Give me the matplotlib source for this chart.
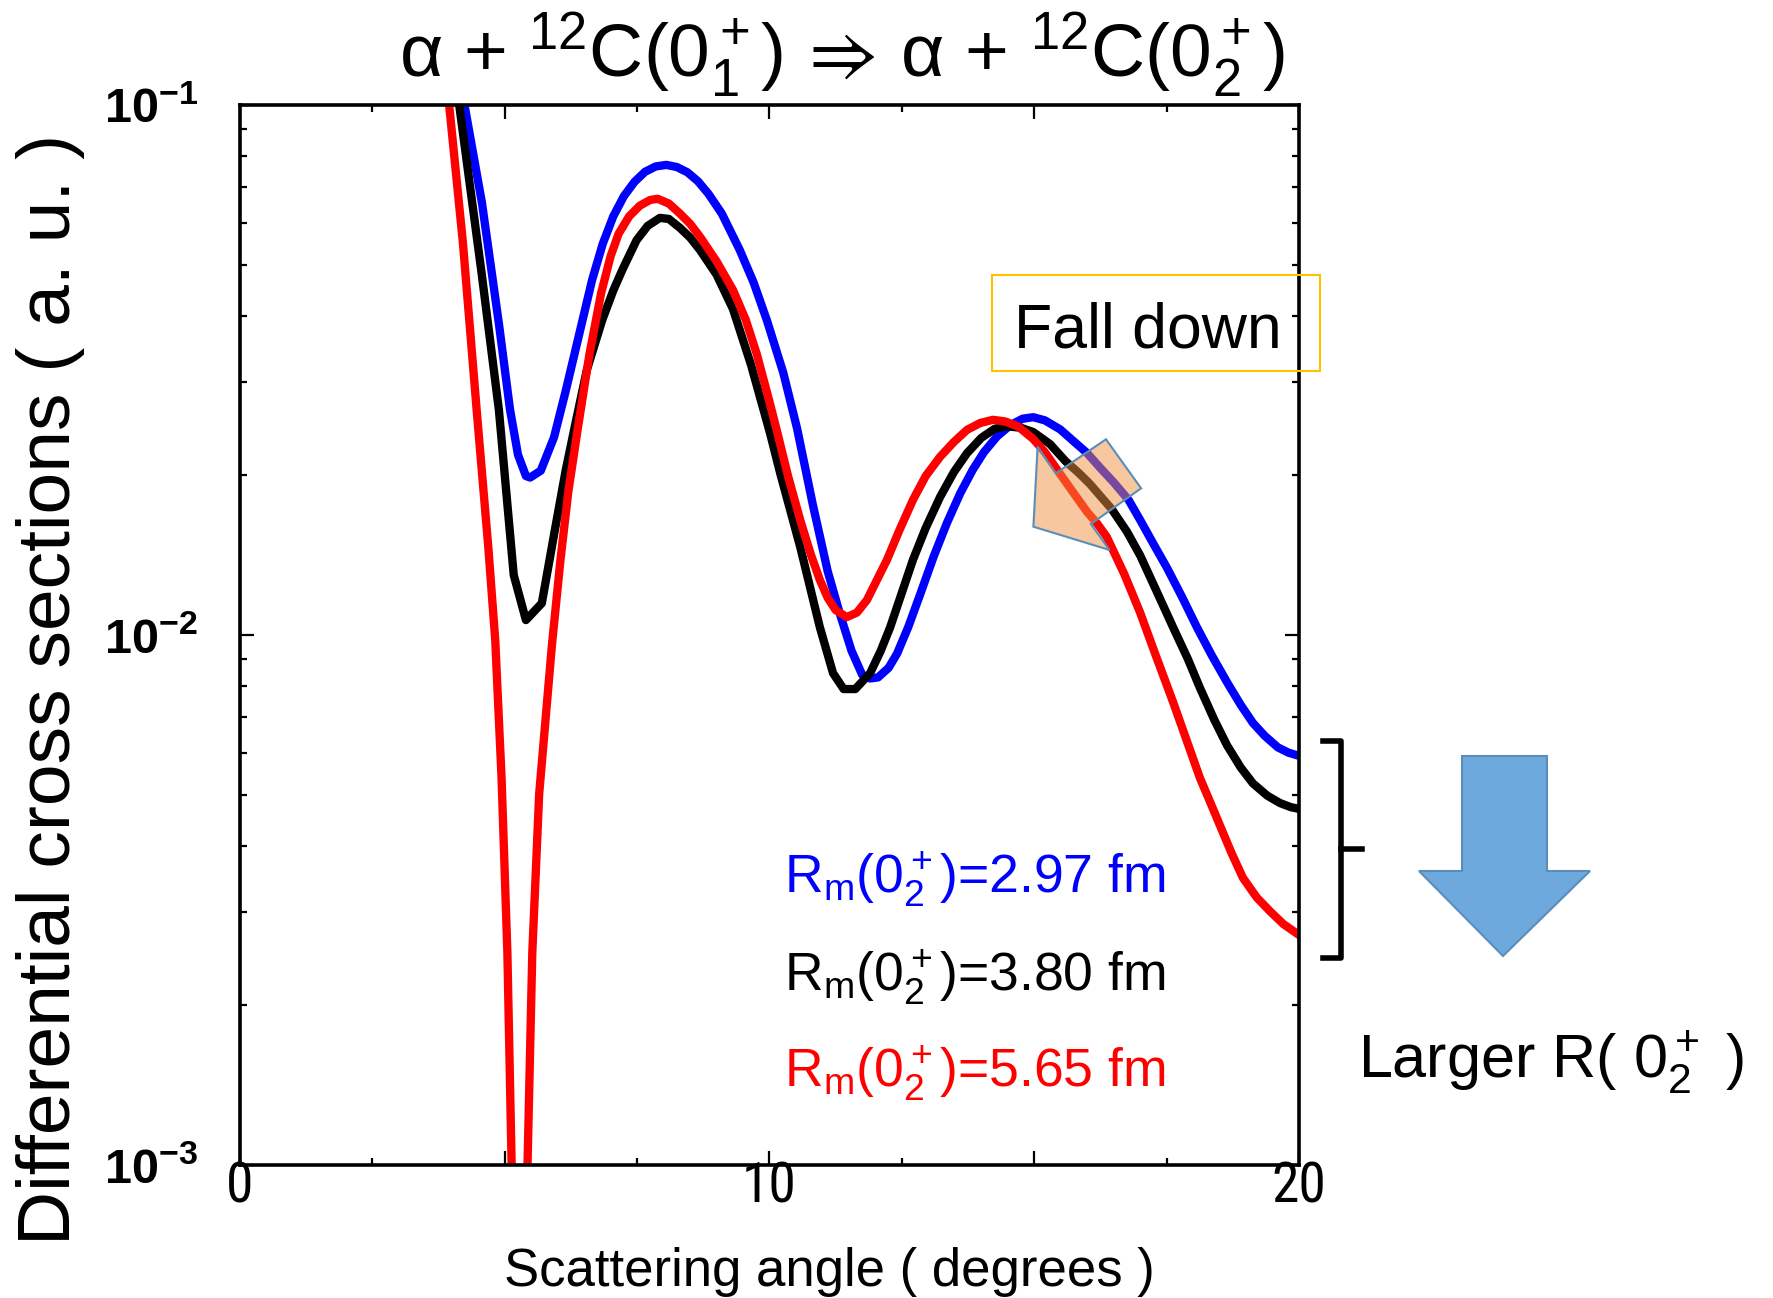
import matplotlib
matplotlib.use('Agg')
import numpy as np
import matplotlib.pyplot as plt
from matplotlib import font_manager
from matplotlib.patches import Polygon, Rectangle
from matplotlib.lines import Line2D
from matplotlib.transforms import Affine2D
from matplotlib.ticker import MultipleLocator, LogLocator, NullFormatter, FuncFormatter

plt.rcParams['font.family'] = ['Liberation Sans', 'DejaVu Sans']
plt.rcParams['mathtext.fontset'] = 'custom'
plt.rcParams['mathtext.rm'] = 'Liberation Sans'
plt.rcParams['mathtext.it'] = 'Liberation Sans:italic'
plt.rcParams['mathtext.bf'] = 'Liberation Sans:bold'
plt.rcParams['mathtext.fallback'] = 'stixsans'

# alpha + 12C(0_1+) -> alpha + 12C(0_2+) cross sections for three radii of the 0_2+ state
# Rm = 2.97 fm
angle_297 = [4.24, 4.57, 4.89, 5.10, 5.25, 5.40, 5.48, 5.68, 5.93, 6.15,
             6.40, 6.65, 6.85, 7.05, 7.25, 7.45, 7.65, 7.85, 8.05, 8.25,
             8.45, 8.65, 8.85, 9.10, 9.44, 9.70, 9.95, 10.26, 10.52, 10.82,
             11.10, 11.33, 11.55, 11.75, 11.90, 12.05, 12.25, 12.41, 12.62, 12.84,
             13.10, 13.35, 13.60, 13.84, 14.05, 14.30, 14.55, 14.78, 14.98, 15.20,
             15.49, 15.75, 15.99, 16.25, 16.50, 16.78, 17.00, 17.25, 17.51, 17.80,
             18.07, 18.35, 18.64, 18.90, 19.13, 19.35, 19.60, 19.80, 20.00]
dcs_297 = [0.1000, 0.06531, 0.03864, 0.02661, 0.02188, 0.01995, 0.01982, 0.02042, 0.02360, 0.02884,
           0.03673, 0.04677, 0.05470, 0.06166, 0.06730, 0.07161, 0.07482, 0.07656, 0.07709, 0.07638,
           0.07464, 0.07178, 0.06792, 0.06237, 0.05321, 0.04624, 0.03926, 0.03126, 0.02455, 0.01758,
           0.01318, 0.01096, 0.009333, 0.008414, 0.008279, 0.008318, 0.008670, 0.009226, 0.01035, 0.01189,
           0.01406, 0.01626, 0.01849, 0.02051, 0.02213, 0.02371, 0.02489, 0.02559, 0.02576, 0.02541,
           0.02443, 0.02317, 0.02208, 0.02065, 0.01941, 0.01799, 0.01648, 0.01486, 0.01337, 0.01175,
           0.01035, 0.009162, 0.008147, 0.007379, 0.006823, 0.006457, 0.006138, 0.005998, 0.005916]

# Rm = 3.80 fm
angle_380 = [4.14, 4.56, 4.89, 5.17, 5.40, 5.70, 5.95, 6.15, 6.32, 6.55,
             6.84, 7.05, 7.23, 7.49, 7.70, 7.93, 8.10, 8.31, 8.50, 8.69,
             9.00, 9.31, 9.65, 10.01, 10.20, 10.58, 10.95, 11.20, 11.40, 11.62,
             11.90, 12.10, 12.28, 12.50, 12.71, 12.95, 13.22, 13.48, 13.73, 14.00,
             14.25, 14.48, 14.75, 14.98, 15.30, 15.59, 15.85, 16.05, 16.25, 16.46,
             16.75, 17.00, 17.30, 17.62, 17.90, 18.13, 18.40, 18.64, 18.90, 19.13,
             19.40, 19.64, 19.85, 20.00]
dcs_380 = [0.1000, 0.04842, 0.02655, 0.01297, 0.01067, 0.01148, 0.01585, 0.02042, 0.02466, 0.03162,
           0.03926, 0.04467, 0.04909, 0.05559, 0.05916, 0.06124, 0.06095, 0.05861, 0.05623, 0.05321,
           0.04786, 0.04121, 0.03236, 0.02404, 0.02023, 0.01466, 0.01035, 0.008472, 0.007907, 0.007907,
           0.008472, 0.009333, 0.01035, 0.01202, 0.01387, 0.01592, 0.01820, 0.02028, 0.02203, 0.02355,
           0.02449, 0.02477, 0.02460, 0.02415, 0.02291, 0.02128, 0.02018, 0.01928, 0.01828, 0.01730,
           0.01567, 0.01413, 0.01216, 0.01035, 0.009016, 0.007943, 0.006918, 0.006194, 0.005623, 0.005248,
           0.004977, 0.004819, 0.004732, 0.004699]

# Rm = 5.65 fm
angle_565 = [3.95, 4.21, 4.47, 4.69, 4.82, 4.94, 5.05, 5.13, 5.28, 5.43,
             5.52, 5.65, 5.89, 6.05, 6.20, 6.38, 6.60, 6.82, 7.00, 7.15,
             7.35, 7.55, 7.75, 7.89, 8.10, 8.31, 8.50, 8.69, 9.00, 9.31,
             9.55, 9.76, 10.00, 10.14, 10.35, 10.58, 10.78, 10.95, 11.10, 11.25,
             11.46, 11.65, 11.84, 12.02, 12.22, 12.45, 12.71, 12.95, 13.22, 13.48,
             13.73, 13.98, 14.22, 14.45, 14.70, 14.98, 15.20, 15.46, 15.75, 16.00,
             16.19, 16.37, 16.70, 17.00, 17.30, 17.62, 17.90, 18.13, 18.30, 18.51,
             18.72, 18.94, 19.20, 19.45, 19.70, 20.00]
dcs_565 = [0.1000, 0.05495, 0.02655, 0.01462, 0.009795, 0.005370, 0.002512, 0.001000, 0.0002512, 0.001000,
           0.002512, 0.005012, 0.009550, 0.01380, 0.01862, 0.02455, 0.03388, 0.04416, 0.05188, 0.05715,
           0.06166, 0.06457, 0.06622, 0.06653, 0.06516, 0.06237, 0.05970, 0.05636, 0.05070, 0.04477,
           0.03936, 0.03388, 0.02754, 0.02427, 0.01995, 0.01648, 0.01419, 0.01271, 0.01175, 0.01114,
           0.01081, 0.01102, 0.01164, 0.01265, 0.01387, 0.01574, 0.01799, 0.01995, 0.02168, 0.02312,
           0.02438, 0.02512, 0.02547, 0.02529, 0.02472, 0.02344, 0.02213, 0.02032, 0.01849, 0.01706,
           0.01622, 0.01531, 0.01303, 0.01102, 0.009120, 0.007482, 0.006237, 0.005370, 0.004898, 0.004365,
           0.003890, 0.003483, 0.003199, 0.003013, 0.002851, 0.002716]

radii = ['2.97', '3.80', '5.65']
colors = ['#0000ff', '#000000', '#ff0000']

# condensed face for the angle tick labels, if one is installed
narrow, xtick_size = 'Liberation Sans', 37
for fam, size in [('Liberation Sans Narrow', 40), ('Roboto Condensed', 40),
                  ('DejaVu Sans Condensed', 38)]:
    try:
        font_manager.findfont(fam, fallback_to_default=False)
        narrow, xtick_size = fam, size
        break
    except ValueError:
        pass

W, H = 1774, 1298
fig = plt.figure(figsize=(W / 100, H / 100), dpi=100)
ax = fig.add_axes([240 / W, 1 - 1165 / H, 1059 / W, 1060 / H])
# pixel coordinates measured from the top-left corner of the figure
pix = Affine2D().scale(1 / W, -1 / H).translate(0, 1) + fig.transFigure

series = [(angle_297, dcs_297), (angle_380, dcs_380), (angle_565, dcs_565)]
for (ang, dcs), c in zip(series, colors):
    ax.plot(ang, dcs, color=c, lw=6, solid_joinstyle='round')

ax.set_yscale('log')
ax.set_xlim(0, 20)
ax.set_ylim(1e-3, 1e-1)
ax.xaxis.set_major_locator(MultipleLocator(5))
ax.xaxis.set_minor_locator(MultipleLocator(2.5))
ax.xaxis.set_major_formatter(FuncFormatter(lambda v, p: '%d' % v if v % 10 == 0 else ''))
ax.yaxis.set_major_locator(LogLocator(base=10))
ax.yaxis.set_minor_locator(LogLocator(base=10, subs=range(2, 10)))
ax.yaxis.set_major_formatter(FuncFormatter(lambda v, p: r'$\mathbf{10^{%d}}$' % round(np.log10(v))))
ax.yaxis.set_minor_formatter(NullFormatter())
ax.tick_params(which='both', direction='in', top=True, right=True, width=1.6)
ax.tick_params(which='major', length=10)
ax.tick_params(which='minor', length=5)
ax.tick_params(axis='x', labelsize=xtick_size, pad=-3, labelfontfamily=narrow)
ax.tick_params(axis='y', labelsize=35, pad=30)
for s in ax.spines.values():
    s.set_linewidth(2.6)

fig.text(842 / W, 1 - 77 / H,
         r'α + $^{12}$C(0$_1^+$)$\,\Rightarrow\,$α + $^{12}$C(0$_2^+$)',
         fontsize=54, ha='center', va='baseline')
fig.text(829 / W, 1 - 1286 / H, 'Scattering angle ( degrees )',
         fontsize=38, ha='center', va='baseline')
fig.text(51 / W, 1 - 689 / H, 'Differential cross sections ( a. u. )',
         fontsize=54, rotation=90, ha='center', va='center')

# radius labels
for r, c, yb in zip(radii, colors, [893, 991, 1087]):
    fig.text(784 / W, 1 - yb / H, r'R$_{\mathrm{m}}$(0$_2^+$)=' + r + ' fm',
             color=c, fontsize=38.5, ha='left', va='baseline')

# "Fall down" box
fig.add_artist(Rectangle((992, 275), 328, 96, transform=pix, fill=False,
                         edgecolor='#ffc000', lw=1.5))
fig.text(1148 / W, 1 - 348 / H, 'Fall down', fontsize=45, ha='center', va='baseline')

# translucent block arrow over the second maximum
orange = [(1037.6, 446.7), (1055.9, 473.3), (1106.0, 439.3), (1141.1, 488.3),
          (1090.9, 524.0), (1109.5, 550.0), (1033.4, 526.7)]
fig.add_artist(Polygon(orange, closed=True, transform=pix,
                       facecolor=(241 / 255, 145 / 255, 64 / 255, 0.5),
                       edgecolor='#5b8db8', lw=1.5, zorder=5))

# bracket grouping the curve ends
fig.add_artist(Line2D([1323, 1341, 1341, 1323], [741, 741, 958, 958], transform=pix,
                      color='black', lw=4, solid_joinstyle='round'))
fig.add_artist(Line2D([1341, 1362], [849, 849], transform=pix, color='black', lw=4))

# blue down arrow
down = [(1462, 756), (1547, 756), (1547, 871), (1590, 871), (1503, 956),
        (1419, 871), (1462, 871)]
fig.add_artist(Polygon(down, closed=True, transform=pix, facecolor='#6da9dc',
                       edgecolor='#5c8dba', lw=1.5))
fig.text(1358 / W, 1 - 1077 / H, r'Larger R( 0$_2^+$ )', fontsize=44,
         ha='left', va='baseline')

fig.savefig('out.png', dpi=100)
